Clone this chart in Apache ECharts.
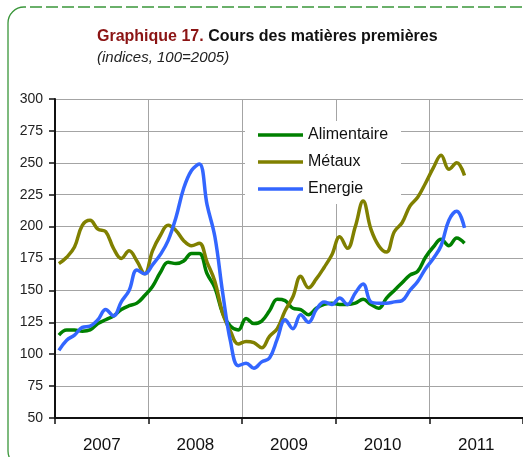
<!DOCTYPE html>
<html>
<head>
<meta charset="utf-8">
<script src="https://cdn.jsdelivr.net/npm/echarts@6/dist/echarts.min.js"></script>
<style>
  html, body { margin: 0; padding: 0; background: #fff; }
  #myChart { width: 523px; height: 457px; }
</style>
</head>
<body>
<div id="myChart"></div>
<script>
// monthly, janv. 2007 -> mai 2011
var months = [];
for (var y = 2007; y <= 2011; y++) {
    for (var m = 1; m <= 12; m++) {
        if (y == 2011 && m > 5) break;
        months.push(y + '-' + (m < 10 ? '0' + m : m));
    }
}
var years = ['2007', '2008', '2009', '2010', '2011'];
var yTicks = [50, 300, 25]; // min, max, step

var alimentaire = [
    115, 119, 119, 118, 119, 124, 127, 130, 135, 138, 140, 146,
    153, 164, 172, 171, 173, 179, 179, 163, 152, 132, 122, 119,
    128, 124, 126, 134, 143, 142, 136, 135, 131, 136, 139, 140,
    139, 139, 140, 143, 139, 136, 144, 150, 156, 162, 165, 176,
    184, 190, 185, 191, 187
];
var metaux = [
    171, 176, 184, 201, 205, 198, 196, 183, 175, 181, 173, 163,
    181, 193, 201, 197, 189, 185, 187, 172, 157, 132, 118, 108,
    110, 109, 105, 114, 120, 134, 145, 161, 152, 159, 168, 178,
    192, 183, 200, 220, 198, 185, 180, 196, 203, 216, 223, 234,
    246, 256, 245, 250, 240
];
var energie = [
    103, 111, 115, 121, 122, 127, 135, 130, 141, 150, 166, 163,
    170, 178, 189, 207, 230, 244, 249, 217, 192, 148, 110, 91,
    93, 89, 94, 97, 112, 127, 120, 131, 125, 135, 141, 139,
    144, 139, 148, 155, 141, 140, 140, 141, 142, 150, 157, 167,
    175, 185, 205, 212, 199
];

function toPoints(arr) {
    var out = [];
    for (var i = 0; i < arr.length; i++) {
        out.push([i + 0.5, arr[i]]);
    }
    return out;
}

var myChart = echarts.init(document.getElementById('myChart'));

var lineSerie = function (name, color, data) {
    return {
        name: name, type: 'line', smooth: 0.4, symbol: 'none', z: 3,
        xAxisIndex: 0, yAxisIndex: 0,
        lineStyle: { color: color, width: 3.5 },
        itemStyle: { color: color },
        data: toPoints(data)
    };
};

var option = {
    animation: false,
    backgroundColor: '#fff',
    title: {
        left: 97, top: 28, padding: 0, itemGap: 3,
        text: '{a|Graphique 17.} {b|Cours des matières premières}',
        textStyle: {
            fontFamily: 'Liberation Sans', fontSize: 16, fontWeight: 'bold', lineHeight: 18,
            rich: {
                a: { color: '#8b1414', fontFamily: 'Liberation Sans', fontSize: 16, fontWeight: 'bold', lineHeight: 18 },
                b: { color: '#111', fontFamily: 'Liberation Sans', fontSize: 16, fontWeight: 'bold', lineHeight: 18 }
            }
        },
        subtext: '(indices, 100=2005)',
        subtextStyle: { color: '#222', fontFamily: 'Liberation Sans', fontSize: 15, fontStyle: 'italic', lineHeight: 17 }
    },
    graphic: [
        {   // cadre vert
            type: 'rect', z: -10, silent: true,
            shape: { x: 8, y: 7, width: 560, height: 460, r: 16 },
            style: { fill: 'none', stroke: '#3a963a', lineWidth: 1.3 }
        },
        {
            type: 'line', z: -9, silent: true,
            shape: { x1: 26, y1: 7, x2: 523, y2: 7 },
            style: { stroke: '#fff', lineWidth: 2.5, lineDash: [4, 12], lineDashOffset: 0 }
        }
    ],
    legend: {
        orient: 'vertical', left: 245, top: 121, z: 1,
        backgroundColor: '#fff',
        padding: [6, 13, 7, 13],
        icon: 'rect',
        itemWidth: 45, itemHeight: 3.5, itemGap: 11,
        textStyle: { color: '#111', fontFamily: 'Liberation Sans', fontSize: 16, lineHeight: 16 },
        data: ['Alimentaire', 'Métaux', 'Energie']
    },
    grid: { left: 55, top: 99, width: 473, height: 319, containLabel: false },
    xAxis: [
        {
            type: 'value', min: 0, max: 60, interval: 12, position: 'bottom',
            axisLine: { show: true, onZero: false, lineStyle: { color: '#111', width: 2 } },
            axisTick: { show: true, length: 6, lineStyle: { color: '#111', width: 1.5 } },
            axisLabel: { show: false },
            splitLine: { show: true, lineStyle: { color: '#a4a4a4', width: 1 } }
        },
        {
            type: 'category', data: years, boundaryGap: true, position: 'bottom', offset: 0,
            axisLine: { show: false },
            axisTick: { show: false },
            splitLine: { show: false },
            axisLabel: { margin: 19, color: '#111', fontSize: 17, fontFamily: 'Liberation Sans' }
        }
    ],
    yAxis: {
        type: 'value', min: yTicks[0], max: yTicks[1], interval: yTicks[2],
        axisLine: { show: true, onZero: false, lineStyle: { color: '#111', width: 2 } },
        axisTick: { show: true, length: 6, lineStyle: { color: '#111', width: 1.5 } },
        axisLabel: { margin: 12, color: '#222', fontSize: 14, fontFamily: 'Liberation Sans' },
        splitLine: { show: true, lineStyle: { color: '#a4a4a4', width: 1 } }
    },
    series: [
        lineSerie('Alimentaire', '#008000', alimentaire),
        lineSerie('Métaux', '#808000', metaux),
        lineSerie('Energie', '#3366ff', energie)
    ]
};

myChart.setOption(option);
</script>
</body>
</html>
